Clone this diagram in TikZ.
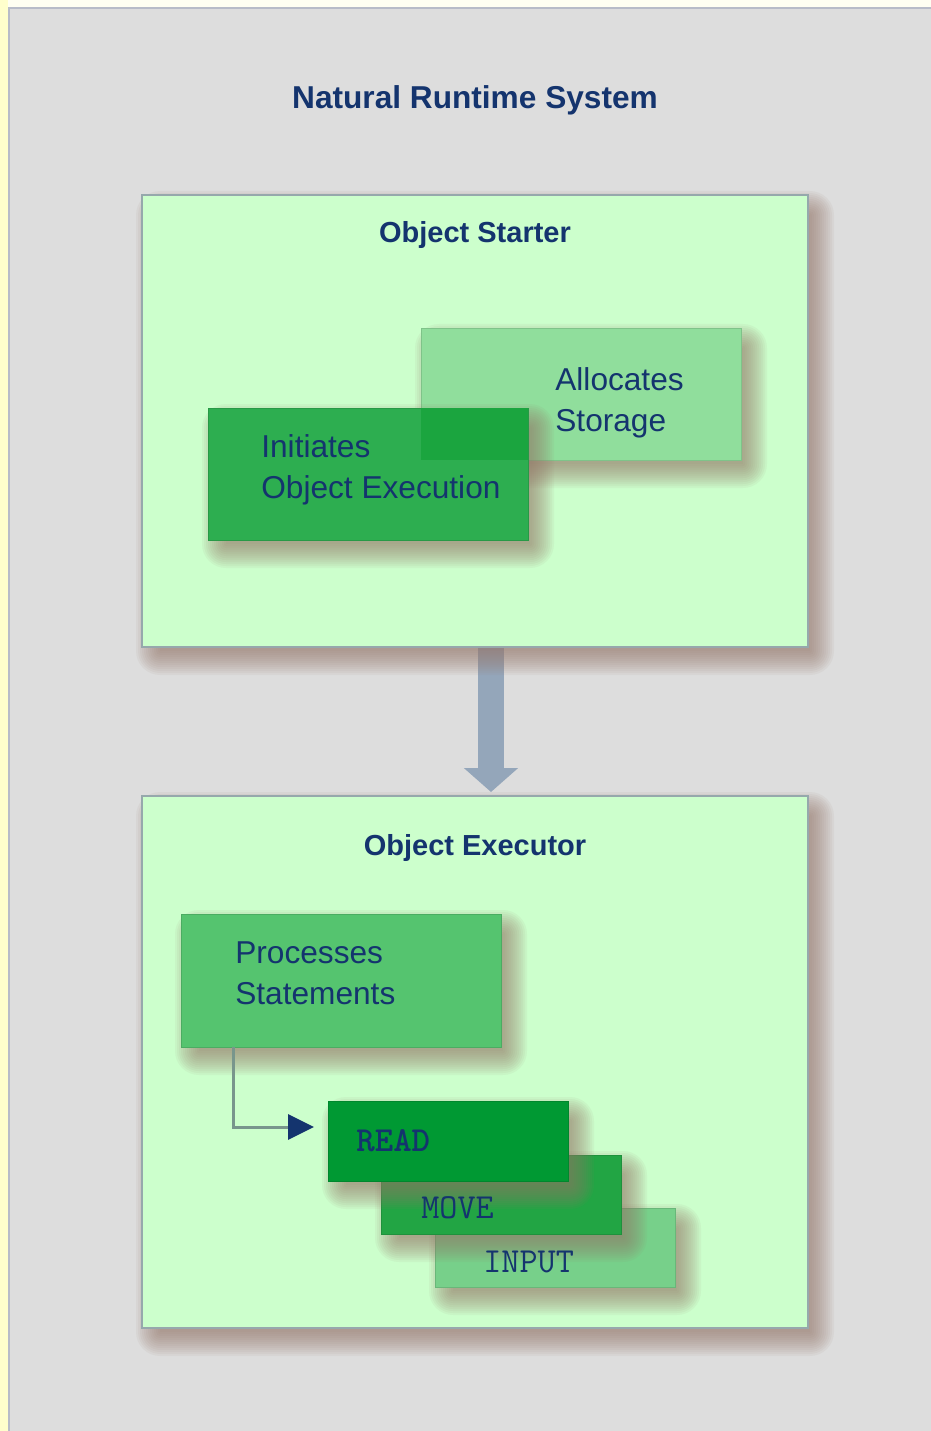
\documentclass[tikz,border=0pt]{standalone}
\usepackage{fontspec}
\setmainfont{Liberation Sans}
\usetikzlibrary{positioning}
\usetikzlibrary{arrows.meta}
\usetikzlibrary{calc}

\definecolor{panelgrey}{RGB}{221,221,221}
\definecolor{framegrey}{RGB}{184,188,200}
\definecolor{stripyellow}{RGB}{255,255,204}
\definecolor{creamwhite}{RGB}{255,255,242}
\definecolor{paleleaf}{RGB}{204,255,204}
\definecolor{leafedge}{RGB}{150,168,172}
\definecolor{allocgreen}{RGB}{144,222,156}
\definecolor{initgreen}{RGB}{45,174,80}
\definecolor{mixgreen}{RGB}{27,165,63}
\definecolor{procgreen}{RGB}{85,196,111}
\definecolor{readgreen}{RGB}{0,153,51}
\definecolor{movegreen}{RGB}{34,165,68}
\definecolor{inputgreen}{RGB}{119,208,138}
\definecolor{navytext}{RGB}{20,52,110}
\definecolor{arrowslate}{RGB}{148,166,186}
\definecolor{linkgrey}{RGB}{120,150,140}
\definecolor{shadowbrown}{RGB}{150,120,105}

\pgfdeclarelayer{background}
\pgfsetlayers{background,main}

\tikzset{
  bigbox/.style={draw=leafedge, fill=paleleaf, line width=0.25mm, inner sep=0pt, outer sep=0pt, anchor=north west},
  stepbox/.style={fill=#1, draw=#1!88!black, line width=0.12mm, inner sep=0pt, outer sep=0pt, anchor=north west},
  maintitle/.style={text=navytext, font=\bfseries\fontsize{18}{22}\selectfont, anchor=base},
  boxtitle/.style={text=navytext, font=\bfseries\fontsize{16.5}{20}\selectfont, anchor=base},
  boxtext/.style={text=navytext, font=\fontsize{18}{22.8}\selectfont, align=left, inner sep=0pt, anchor=base west},
  cmdtext/.style={text=navytext, font=\ttfamily\fontsize{20}{22}\selectfont, inner sep=0pt, anchor=base west},
  bigarrow/.style={arrowslate, line width=5.2mm, -{Triangle[width=10.6mm,length=4.8mm]}},
  flowline/.style={linkgrey, line width=0.6mm, -{Triangle[width=5mm,length=5.2mm,color=navytext]}}
}

% box with a soft shadow: name, style, x, y, width, height (px)
\newcommand{\shadedbox}[6]{%
  \foreach \r in {0,2,...,24}
    {\fill[shadowbrown, opacity=0.07, rounded corners=\r*0.2mm] (#3+18-\r,#4+20-\r) rectangle (#3+#5+2+\r,#4+#6+4+\r);}
  \node[#2, minimum width=#5*0.2mm, minimum height=#6*0.2mm] (#1) at (#3,#4) {};
}

\begin{document}
\begin{tikzpicture}[x=0.2mm, y=-0.2mm]
  \useasboundingbox (0,0) rectangle (931,1431);

  \node[maintitle] (title) at (475,109) {Natural Runtime System};

  % object starter
  \shadedbox{starter}{bigbox}{142}{195}{666}{452}
  \node[boxtitle] (startertitle) at ($(starter.north)+(0,48)$) {Object Starter};
  \shadedbox{alloc}{stepbox=allocgreen}{421}{328}{320}{132}
  \shadedbox{init}{stepbox=initgreen}{208}{408}{320}{132}
  \fill[mixgreen] (alloc.west |- init.north) rectangle (init.east |- alloc.south);
  \node[boxtext] (alloctext) at (555,431) {Allocates\\Storage};
  \node[boxtext] (inittext) at (261,498) {Initiates\\Object Execution};

  % object executor
  \shadedbox{executor}{bigbox}{142}{796}{666}{532}
  \node[boxtitle] (executortitle) at ($(executor.north)+(0,59)$) {Object Executor};
  \shadedbox{proc}{stepbox=procgreen}{181}{914}{320}{133}
  \node[boxtext] (proctext) at (235,1004) {Processes\\Statements};

  \shadedbox{input}{stepbox=inputgreen}{435}{1208}{240}{79}
  \shadedbox{move}{stepbox=movegreen}{381}{1155}{240}{79}
  \shadedbox{read}{stepbox=readgreen}{328}{1101}{240}{80}
  \node[cmdtext] (inputtext) at (483,1272) {INPUT};
  \node[cmdtext] (movetext) at (421,1218) {MOVE};
  \node[cmdtext, font=\ttfamily\bfseries\fontsize{20}{22}\selectfont] (readtext) at (356,1151) {READ};
  \draw[flowline] ([xshift=10.4mm]proc.south west) |- ([xshift=-2.8mm,yshift=2.8mm]read.west);

  \begin{pgfonlayer}{background}
    \fill[creamwhite] (0,0) rectangle (931,1431);
    \fill[stripyellow] (0,0) rectangle (8,1431);
    \fill[panelgrey] (8,7) rectangle (931,1431);
    \draw[framegrey, line width=0.4mm] (9,1431) -- (9,8) -- (931,8);
    \draw[bigarrow] ([xshift=3.2mm]starter.south) -- ([xshift=3.2mm,yshift=0.8mm]executor.north);
  \end{pgfonlayer}
\end{tikzpicture}
\end{document}
